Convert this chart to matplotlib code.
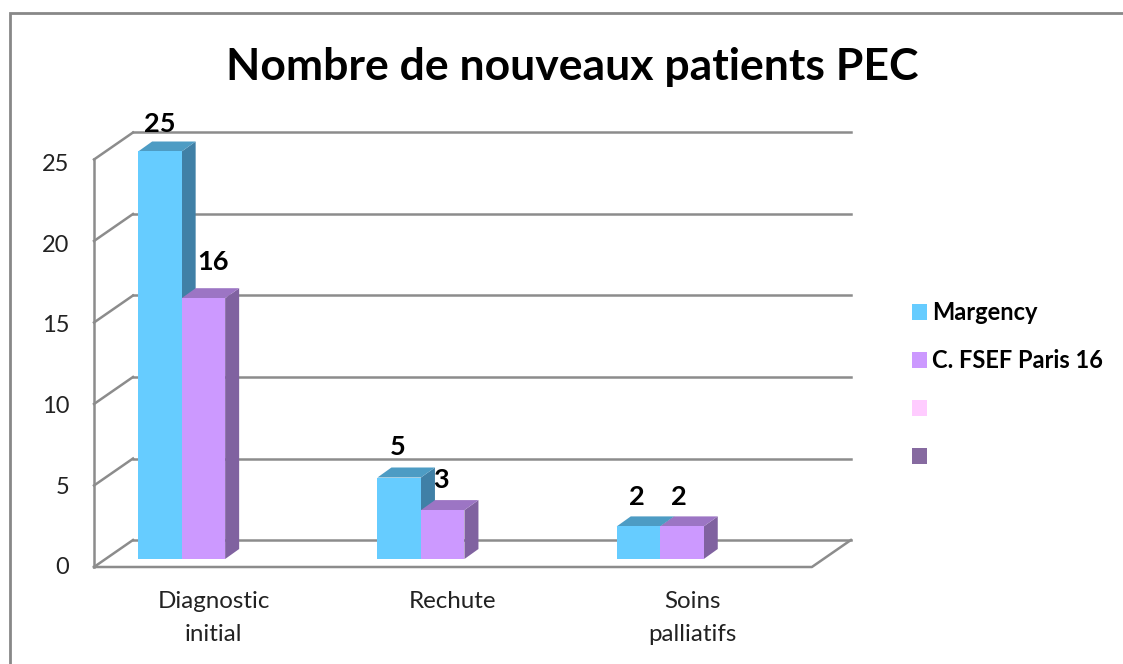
import matplotlib
matplotlib.use('Agg')
import matplotlib.pyplot as plt
from matplotlib.patches import Patch, Rectangle
import numpy as np

plt.rcParams['font.family'] = ['Lato', 'DejaVu Sans']

categories = ['Diagnostic\ninitial', 'Rechute', 'Soins\npalliatifs']
margency = [25, 5, 2]
fsef = [16, 3, 2]
y_ticks = [0, 5, 10, 15, 20, 25]
series_names = ['Margency', 'C. FSEF Paris 16', '', '']

W, H = 1123, 664
cat_px = 239.3      # largeur d'une categorie en pixels
unit_px = 16.3      # hauteur d'une unite en pixels
x0_px, y0_px = 94, 567

fig = plt.figure(figsize=(W / 100, H / 100), dpi=100)
ax = fig.add_axes([0, 0, 1, 1])
ax.set_xlim(-x0_px / cat_px, (W - x0_px) / cat_px)
ax.set_ylim(-(H - y0_px) / unit_px, y0_px / unit_px)
ax.axis('off')

# decalages de la fausse 3D, en unites de donnees
wall_dx, wall_dy = 39 / cat_px, 27 / unit_px
base_dx, base_dy = 11.5 / cat_px, 8 / unit_px
depth_dx, depth_dy = 14 / cat_px, 10 / unit_px
bar_w = 43.5 / cat_px

grid_col = '#8c8c8c'
n_cat = len(categories)

# cadre du graphique
fig.add_artist(Rectangle((9.5 / W, -0.1), 1.2, 1.1 - 13.5 / H, transform=fig.transFigure,
                         fill=False, ec='#888888', lw=2))

# murs et grille
for v in y_ticks:
    ax.plot([wall_dx, n_cat + wall_dx], [v + wall_dy, v + wall_dy], color=grid_col, lw=1.8, zorder=1)
    ax.plot([0, wall_dx], [v, v + wall_dy], color=grid_col, lw=1.8, zorder=1)
    ax.text(-0.104, v * 0.99 - 0.05, str(v), ha='right', va='center', fontsize=17, color='#222222')
ax.plot([0, 0], [0, y_ticks[-1]], color=grid_col, lw=1.8, zorder=1)
ax.plot([0, n_cat, n_cat + wall_dx], [0, 0, wall_dy], color=grid_col, lw=1.8, zorder=1)


def draw_series(values, slot, front, top, side, z, label_dx, label_dy):
    for i, v in enumerate(values):
        left = i + 0.5 - 2 * bar_w + base_dx + slot * bar_w
        right = left + bar_w
        y_top = base_dy + v
        ax.fill([right, right + depth_dx, right + depth_dx, right],
                [base_dy, base_dy + depth_dy, y_top + depth_dy, y_top], color=side, lw=0, zorder=z)
        ax.fill([left, left + depth_dx, right + depth_dx, right],
                [y_top, y_top + depth_dy, y_top + depth_dy, y_top], color=top, lw=0, zorder=z)
        ax.bar(left, v, bar_w, bottom=base_dy, align='edge', color=front, lw=0, zorder=z + 0.5)
        ax.annotate(str(v), (left + bar_w / 2, y_top), xytext=(label_dx[i], label_dy[i]),
                    textcoords='offset points', ha='center', va='center',
                    fontsize=19.5, fontweight='bold', color='black', zorder=10)


draw_series(margency, 0, '#66CCFF', '#4D9CC4', '#4080A6', 3, [0, -1, -1], [20, 22, 21])
draw_series(fsef, 1, '#CC99FF', '#9C75C4', '#8062A0', 4, [7, -1, -2], [26, 22, 21])

# etiquettes de categories
for i, name in enumerate(categories):
    ax.text(i + 0.5, -1.5, name, ha='center', va='top', fontsize=17.4, color='#222222',
            linespacing=1.7)

ax.text(0.5098, 0.8985, 'Nombre de nouveaux patients PEC', transform=ax.transAxes, ha='center',
        va='center', fontsize=32, fontweight='bold', color='black')

handles = [Patch(fc=c, ec='none') for c in ['#66CCFF', '#CC99FF', '#FFCCFF', '#866AA0']]
ax.legend(handles, series_names, loc='upper left', bbox_to_anchor=(912 / W, 1 - 301 / H),
          bbox_transform=fig.transFigure, frameon=False,
          prop={'weight': 'bold', 'size': 17}, handlelength=0.64, handleheight=0.64,
          handletextpad=0.22, labelspacing=1.06, borderpad=0, borderaxespad=0)

fig.savefig('out.png', dpi=100)
